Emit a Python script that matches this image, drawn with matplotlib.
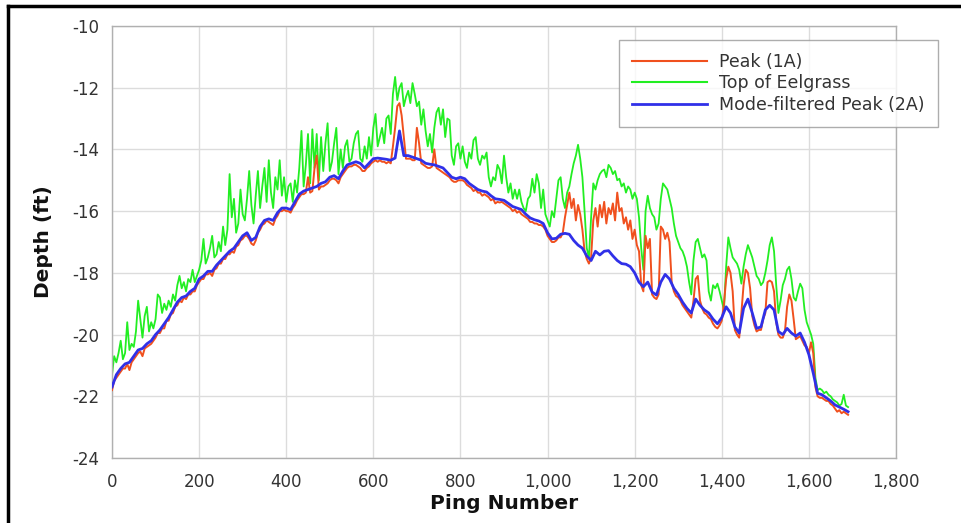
import numpy as np
import matplotlib
matplotlib.use("Agg")
import matplotlib.pyplot as plt
from matplotlib.lines import Line2D

# Ping numbers
ping_10 = np.arange(0, 1691, 10)
ping_5 = np.arange(0, 1691, 5)

# Mode-filtered Peak (2A), every 10 pings
mode_peak = [
    -21.7, -21.3, -21.1, -20.95, -20.9, -20.7, -20.5, -20.45, -20.3, -20.2,
    -20.0, -19.85, -19.65, -19.45, -19.2, -18.95, -18.8, -18.75, -18.6, -18.5,
    -18.2, -18.1, -17.95, -17.95, -17.75, -17.6, -17.45, -17.3, -17.2, -17.0,
    -16.8, -16.7, -16.95, -16.85, -16.5, -16.3, -16.25, -16.3, -16.05, -15.9,
    -15.9, -15.95, -15.7, -15.45, -15.35, -15.3, -15.25, -15.2, -15.1, -15.05,
    -14.9, -14.85, -14.95, -14.7, -14.5, -14.45, -14.4, -14.45, -14.6, -14.45,
    -14.3, -14.28, -14.3, -14.32, -14.35, -14.28, -13.4, -14.2, -14.2, -14.25,
    -14.3, -14.35, -14.45, -14.48, -14.5, -14.55, -14.6, -14.75, -14.9, -14.95,
    -14.9, -14.95, -15.1, -15.2, -15.3, -15.35, -15.38, -15.5, -15.6, -15.62,
    -15.65, -15.75, -15.85, -15.9, -15.95, -16.1, -16.22, -16.28, -16.32, -16.4,
    -16.7, -16.9, -16.88, -16.75, -16.72, -16.75, -16.95, -17.1, -17.2, -17.45,
    -17.6, -17.3, -17.42, -17.3, -17.28, -17.45, -17.6, -17.7, -17.72, -17.8,
    -18.0, -18.3, -18.45, -18.3, -18.62, -18.72, -18.3, -18.05, -18.2, -18.5,
    -18.7, -18.95, -19.15, -19.3, -18.85, -19.05, -19.2, -19.3, -19.5, -19.65,
    -19.45, -19.1, -19.3, -19.75, -19.95, -19.15, -18.85, -19.3, -19.8, -19.75,
    -19.2, -19.05, -19.2, -19.9, -20.0, -19.8, -19.95, -20.05, -19.95, -20.25,
    -20.65, -21.25, -21.9, -21.95, -22.05, -22.15, -22.28, -22.35, -22.42, -22.5,
]

# Top of Eelgrass, every 5 pings
top_eelgrass = [
    -21.3, -20.7, -20.9, -20.6, -20.2, -20.8, -20.6, -19.6, -20.5, -20.3,
    -20.4, -19.9, -18.9, -19.5, -20.1, -19.4, -19.1, -19.9, -19.6, -19.8,
    -19.5, -18.7, -18.8, -19.3, -19.0, -19.2, -18.9, -19.1, -18.7, -18.9,
    -18.4, -18.1, -18.5, -18.3, -18.6, -18.2, -18.3, -17.9, -18.3, -18.1,
    -17.9, -17.6, -16.9, -17.7, -17.5, -17.2, -16.8, -17.5, -17.4, -17.0,
    -17.3, -16.5, -17.1, -16.6, -14.8, -16.2, -15.6, -16.7, -16.4, -15.3,
    -16.1, -16.3, -15.6, -14.7, -15.8, -16.4, -15.5, -14.7, -15.9, -15.2,
    -14.6, -15.7, -14.35, -15.4, -15.9, -14.9, -15.3, -14.35, -15.5, -14.9,
    -15.7, -15.2, -15.1, -15.7, -15.0, -15.4, -14.6, -13.4, -15.2, -14.5,
    -13.5, -15.1, -13.35, -14.6, -13.5, -15.0, -13.6, -14.7, -13.8, -13.15,
    -14.7, -14.4, -13.8, -13.3, -14.8, -14.0, -14.6, -13.9, -13.7, -14.4,
    -14.3, -13.8, -13.5, -13.4, -14.3, -14.4, -13.9, -14.3, -13.6, -14.2,
    -13.3, -12.85, -13.9, -13.6, -13.3, -13.8, -13.0, -12.9, -13.5, -12.2,
    -11.65, -12.4, -12.0, -11.85, -12.6, -12.3, -12.1, -12.5, -11.85, -12.2,
    -12.6, -12.45, -13.2, -12.7, -13.4, -13.9, -13.5, -14.1, -13.3, -12.8,
    -12.65, -13.2, -12.7, -13.6, -13.0, -13.05, -14.2, -14.5, -13.9, -13.8,
    -14.3, -13.9, -14.4, -14.6, -14.1, -14.3, -13.7, -13.6, -14.3, -14.5,
    -14.2, -14.3, -14.1, -14.9, -15.2, -14.9, -15.0, -14.5, -14.65, -15.1,
    -14.2, -14.9, -15.4, -15.1, -15.6, -15.3, -15.6, -15.3, -15.7, -15.9,
    -16.0, -15.6, -15.5, -14.95, -15.4, -14.8, -15.1, -15.9, -15.3, -16.1,
    -16.3, -16.5, -16.0, -16.2, -15.6, -15.0, -14.9, -15.6, -15.9, -15.4,
    -15.2, -14.8, -14.45, -14.2, -13.85, -14.3, -14.9, -16.0, -17.2, -17.5,
    -16.2, -15.1, -15.3, -15.0, -14.8, -14.7, -14.65, -14.9, -14.5, -14.6,
    -14.8, -14.7, -15.0, -14.95, -15.2, -15.1, -15.4, -15.2, -15.3, -15.6,
    -15.4, -15.6, -16.2, -17.2, -17.9, -16.0, -15.5, -15.9, -16.1, -16.2,
    -16.6, -16.4, -15.6, -15.1, -15.2, -15.3, -15.6, -15.9, -16.4, -16.8,
    -17.0, -17.2, -17.3, -17.5, -17.8, -18.3, -18.7, -17.6, -17.0, -16.9,
    -17.2, -17.5, -17.4, -17.6, -18.6, -18.9, -18.4, -18.5, -18.35, -18.6,
    -18.9, -19.2, -17.8, -16.85, -17.2, -17.5, -17.6, -17.7, -17.9, -18.35,
    -17.8, -17.4, -17.1, -17.3, -17.5, -17.8, -18.1, -18.2, -18.4, -18.3,
    -18.0, -17.6, -17.1, -16.85, -17.3, -18.4, -19.3, -18.9, -18.4, -18.2,
    -17.9, -17.8, -18.2, -18.8, -18.9, -18.6, -18.35, -18.5, -19.2, -19.6,
    -19.8, -20.0, -20.3, -21.4, -21.8, -21.75, -21.8, -21.9, -21.85, -21.95,
    -22.0, -22.1, -22.15, -22.2, -22.3, -22.25, -21.95, -22.3, -22.35,
]

# Peak (1A), every 5 pings
peak_1a = [
    -21.8, -21.5, -21.4, -21.3, -21.2, -21.1, -21.1, -20.95, -21.15, -20.9,
    -20.8, -20.7, -20.6, -20.55, -20.7, -20.45, -20.4, -20.35, -20.3, -20.2,
    -20.1, -19.95, -19.95, -19.8, -19.8, -19.55, -19.55, -19.35, -19.3, -19.1,
    -19.05, -18.9, -18.95, -18.8, -18.85, -18.7, -18.7, -18.6, -18.6, -18.4,
    -18.3, -18.2, -18.2, -18.05, -18.05, -18.0, -18.1, -17.9, -17.85, -17.7,
    -17.7, -17.55, -17.55, -17.4, -17.4, -17.3, -17.35, -17.15, -17.1, -16.95,
    -16.9, -16.8, -16.8, -16.9, -17.05, -17.1, -16.95, -16.7, -16.6, -16.45,
    -16.4, -16.3, -16.35, -16.4, -16.45, -16.25, -16.15, -16.0, -16.0, -15.95,
    -16.0, -16.0, -16.05, -15.9, -15.8, -15.65, -15.55, -15.45, -15.45, -15.4,
    -14.9, -15.4, -15.35, -14.6, -14.2, -15.3, -15.2, -15.2, -15.15, -15.1,
    -15.0, -14.95, -14.95, -15.0, -15.1, -14.9, -14.8, -14.7, -14.6, -14.55,
    -14.55, -14.5, -14.5, -14.55, -14.6, -14.7, -14.7, -14.6, -14.55, -14.45,
    -14.4, -14.35, -14.4, -14.35, -14.4, -14.4, -14.45, -14.4, -14.45, -13.9,
    -13.3, -12.6, -12.5, -12.9, -13.6, -14.3, -14.3, -14.3, -14.35, -14.35,
    -13.3, -13.8, -14.45, -14.5, -14.55, -14.6, -14.6, -14.55, -14.0, -14.6,
    -14.65, -14.7, -14.75, -14.8, -14.85, -14.9, -15.0, -15.05, -15.05, -15.0,
    -15.0, -15.0, -15.05, -15.15, -15.2, -15.25, -15.35, -15.3, -15.4, -15.4,
    -15.5, -15.45, -15.5, -15.55, -15.65, -15.6, -15.75, -15.7, -15.72, -15.7,
    -15.75, -15.8, -15.85, -15.9, -16.0, -15.95, -16.05, -16.0, -16.1, -16.15,
    -16.2, -16.25, -16.35, -16.35, -16.4, -16.4, -16.45, -16.45, -16.5, -16.6,
    -16.8, -16.9, -17.0, -17.0, -16.95, -16.85, -16.85, -16.7, -16.2, -15.8,
    -15.4, -15.9, -15.6, -16.3, -15.8, -16.1, -16.6, -17.3, -17.55, -17.7,
    -17.5, -16.3, -15.9, -16.5, -15.8, -16.2, -15.7, -16.4, -15.9, -16.1,
    -15.75, -16.3, -15.4, -16.0, -15.9, -16.4, -16.2, -16.6, -16.3, -16.9,
    -16.6, -17.1, -17.3, -18.4, -18.6, -16.8, -17.2, -16.9, -18.7, -18.8,
    -18.85, -18.7, -16.5, -16.6, -16.9, -16.7, -17.0, -18.3, -18.6, -18.75,
    -18.8, -18.9, -19.05, -19.15, -19.25, -19.35, -19.45, -18.9, -18.2, -18.1,
    -18.9, -19.15, -19.3, -19.35, -19.45, -19.5, -19.65, -19.75, -19.8, -19.7,
    -19.55, -19.0, -18.2, -17.8, -18.0, -18.6, -19.85, -20.0, -20.1, -19.3,
    -18.4, -17.9, -18.0, -18.5, -19.4, -19.7, -19.9, -19.85, -19.85, -19.5,
    -19.3, -18.3, -18.25, -18.3, -18.6, -19.6, -20.0, -20.1, -20.1, -19.9,
    -19.1, -18.7, -18.9, -19.5, -20.15, -20.1, -20.05, -20.2, -20.35, -20.4,
    -20.6, -20.25, -20.6, -21.7, -22.0, -22.05, -22.05, -22.1, -22.15, -22.15,
    -22.25, -22.3, -22.4, -22.5, -22.45, -22.55, -22.5, -22.55, -22.6,
]

x_ticks = [0, 200, 400, 600, 800, 1000, 1200, 1400, 1600, 1800]
x_ticklabels = ["0", "200", "400", "600", "800", "1,000", "1,200", "1,400", "1,600", "1,800"]
y_ticks = [-24, -22, -20, -18, -16, -14, -12, -10]

plt.rcParams['font.family'] = ['DejaVu Sans']
plt.rcParams['axes.unicode_minus'] = False

W, H = 962, 523
fig = plt.figure(figsize=(W / 100, H / 100), dpi=100)
ax = fig.add_axes([112 / W, 1 - 458 / H, (896 - 112) / W, (458 - 26) / H])

c_red = '#F0501E'
c_green = '#22EE22'
c_blue = '#3030E8'

ax.plot(ping_5, top_eelgrass, color=c_green, lw=1.3, zorder=2, label='Top of Eelgrass')
ax.plot(ping_5, peak_1a, color=c_red, lw=1.4, zorder=3, label='Peak (1A)')
ax.plot(ping_10, mode_peak, color=c_blue, lw=2.0, zorder=4, label='Mode-filtered Peak (2A)')

ax.set_xlim(0, 1800)
ax.set_ylim(-24, -10)
ax.set_xticks(x_ticks)
ax.set_xticklabels(x_ticklabels)
ax.set_yticks(y_ticks)
ax.grid(True, color='#dcdcdc', lw=1.0, zorder=0)
ax.set_axisbelow(True)
for s in ax.spines.values():
    s.set_color('#b0b0b0')
    s.set_linewidth(1.0)
ax.tick_params(axis='both', length=0, labelsize=12, labelcolor='#333333')
ax.tick_params(axis='x', pad=11)
ax.tick_params(axis='y', pad=9)

ax.set_xlabel('Ping Number', fontsize=14.5, fontweight='bold', color='#111111', labelpad=2)
ax.set_ylabel('Depth (ft)', fontsize=14.5, fontweight='bold', color='#111111', labelpad=14)

handles = [
    Line2D([], [], color=c_red, lw=1.5),
    Line2D([], [], color=c_green, lw=1.5),
    Line2D([], [], color=c_blue, lw=2.0),
]
labels = ['Peak (1A)', 'Top of Eelgrass', 'Mode-filtered Peak (2A)']
leg = ax.legend(handles, labels, loc='upper left', bbox_to_anchor=(0.647, 0.968),
                frameon=True, fancybox=False, shadow=False, fontsize=12.5,
                handlelength=4.3, handletextpad=0.7, labelspacing=0.2,
                borderpad=0.75, borderaxespad=0)
leg.get_frame().set_edgecolor('#999999')
leg.get_frame().set_linewidth(1.0)
for t in leg.get_texts():
    t.set_color('#333333')

# black border of the picture (left and top)
fig.add_artist(Line2D([8 / W, 8 / W], [0, 1 - 6 / H], color='black', lw=2.5, transform=fig.transFigure))
fig.add_artist(Line2D([8 / W, 1], [1 - 6 / H, 1 - 6 / H], color='black', lw=2.5, transform=fig.transFigure))

fig.savefig('out.png', dpi=100)
